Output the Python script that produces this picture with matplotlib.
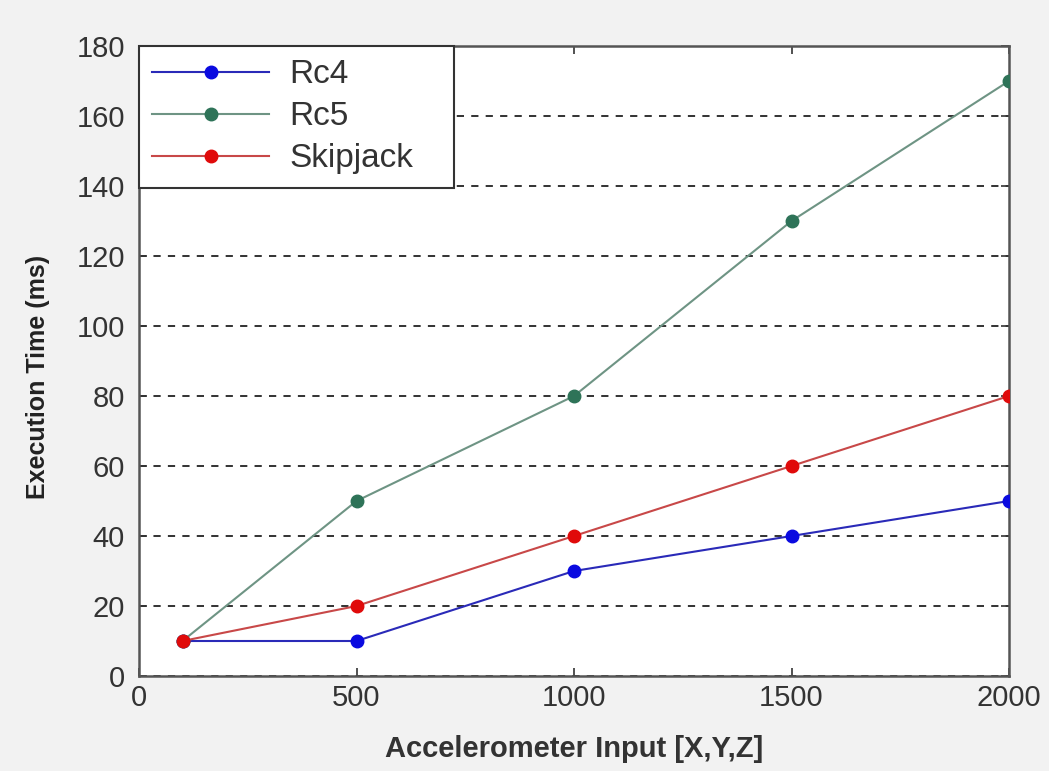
"""
Line plot: execution time vs accelerometer input for three ciphers.
"""

import matplotlib
matplotlib.use("Agg")
import matplotlib.pyplot as plt

plt.rcParams["font.family"] = ["Liberation Sans", "DejaVu Sans"]

inputs = [100, 500, 1000, 1500, 2000]
rc4 = [10, 10, 30, 40, 50]
rc5 = [10, 50, 80, 130, 170]
skipjack = [10, 20, 40, 60, 80]

x_ticks = [0, 500, 1000, 1500, 2000]
y_ticks = [0, 20, 40, 60, 80, 100, 120, 140, 160, 180]

series = [
    ("Rc4", rc4, "#2a2ab8", "#0a0ae0"),
    ("Rc5", rc5, "#6e9484", "#2e7358"),
    ("Skipjack", skipjack, "#c84848", "#e00a0a"),
]

fig = plt.figure(figsize=(10.49, 7.71), dpi=100, facecolor="#f2f2f2")
ax = fig.add_axes([139 / 1049, 1 - 676 / 771, 870 / 1049, 630 / 771])

for name, vals, lc, mc in series:
    ax.plot(inputs, vals, color=lc, linewidth=1.5, marker="o", markersize=9,
            markerfacecolor=mc, markeredgecolor=mc, label=name, zorder=3)

ax.set_xlim(0, 2000)
ax.set_ylim(0, 180)
ax.set_xticks(x_ticks)
ax.set_yticks(y_ticks)
ax.tick_params(direction="in", length=6, width=1.2, labelsize=21,
               colors="#333333", top=True, right=True, pad=10)
ax.tick_params(axis="x", pad=6)
for s in ax.spines.values():
    s.set_linewidth(1.8)
    s.set_color("#555555")

ax.grid(axis="y", linestyle=(0, (4, 4)), color="#222222", linewidth=1.3)
ax.set_axisbelow(True)

ax.set_xlabel("Accelerometer Input [X,Y,Z]", fontsize=21, fontweight="bold",
              color="#333333", labelpad=16)
ax.set_ylabel("Execution Time (ms)", fontsize=18, fontweight="bold",
              color="#222222")
ax.yaxis.set_label_coords(-0.102, 0.475)

# legend box stretched to the width seen in the original
leg = ax.legend(loc="upper left", bbox_to_anchor=(0, 0, 0.362, 1),
                mode="expand", borderaxespad=0,
                fontsize=24, fancybox=False, framealpha=1, edgecolor="#333333",
                handlelength=3.5, handletextpad=0.6, borderpad=0.4,
                labelspacing=0.33)
leg.get_frame().set_linewidth(1.5)
for t in leg.get_texts():
    t.set_color("#333333")

fig.savefig("out.png", dpi=100, facecolor=fig.get_facecolor())
